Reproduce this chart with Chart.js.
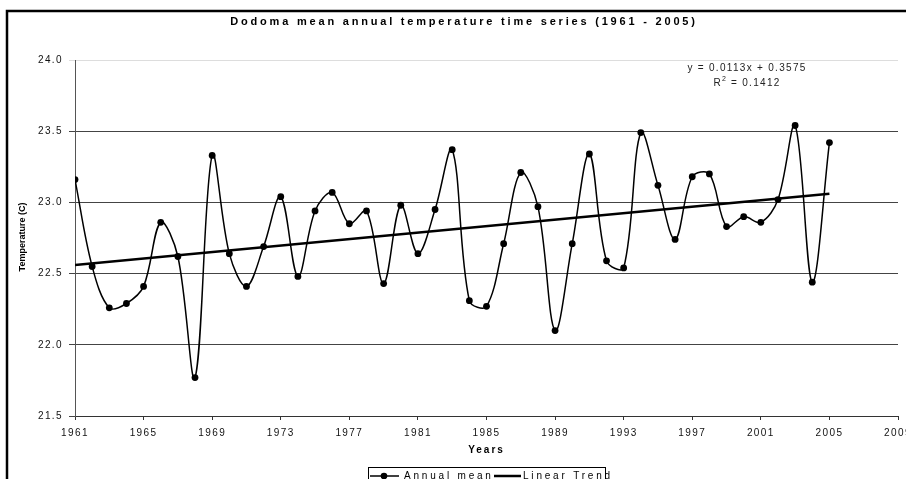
<!DOCTYPE html>
<html>
<head>
<meta charset="utf-8">
<title>Dodoma mean annual temperature</title>
<script src="https://cdn.jsdelivr.net/npm/chart.js@4.4.0/dist/chart.umd.min.js"></script>
<style>
    html, body { margin: 0; padding: 0; background: #fff; }
</style>
</head>
<body>
<canvas id="tempChart" width="906" height="479"></canvas>
<script>
// Data
const years = [1961, 1962, 1963, 1964, 1965, 1966, 1967, 1968, 1969, 1970,
               1971, 1972, 1973, 1974, 1975, 1976, 1977, 1978, 1979, 1980,
               1981, 1982, 1983, 1984, 1985, 1986, 1987, 1988, 1989, 1990,
               1991, 1992, 1993, 1994, 1995, 1996, 1997, 1998, 1999, 2000,
               2001, 2002, 2003, 2004, 2005];
const annualMean = [23.16, 22.55, 22.26, 22.29, 22.41, 22.86, 22.62, 21.77, 23.33, 22.64,
                    22.41, 22.69, 23.04, 22.48, 22.94, 23.07, 22.85, 22.94, 22.43, 22.98,
                    22.64, 22.95, 23.37, 22.31, 22.27, 22.71, 23.21, 22.97, 22.10, 22.71,
                    23.34, 22.59, 22.54, 23.49, 23.12, 22.74, 23.18, 23.20, 22.83, 22.90,
                    22.86, 23.02, 23.54, 22.44, 23.42];
const trendYears = [1961, 2005];
const trendValues = [22.56, 23.06];
const equationLines = ['y = 0.0113x + 0.3575', 'R', ' = 0.1412'];

const chartTitle = 'Dodoma mean annual temperature time series (1961 - 2005)';
const xTitle = 'Years';
const yTitle = 'Temperature (C)';

const FONT = '"Liberation Sans", Arial, sans-serif';

// Extra drawing: frame, titles, equation, legend
const decorations = {
    id: 'decorations',
    beforeDraw(chart) {
        const ctx = chart.ctx;
        ctx.save();
        ctx.fillStyle = '#fff';
        ctx.fillRect(0, 0, chart.width, chart.height);
        ctx.restore();
        ctx.letterSpacing = '1.4px';
    },
    afterDraw(chart) {
        const ctx = chart.ctx;
        const area = chart.chartArea;
        ctx.save();

        // outer frame (cut off at right and bottom)
        ctx.strokeStyle = '#000';
        ctx.lineWidth = 2.5;
        ctx.strokeRect(7, 11, 1200, 1200);

        ctx.fillStyle = '#000';
        ctx.textAlign = 'left';
        ctx.textBaseline = 'middle';

        // chart title
        ctx.letterSpacing = '2.8px';
        ctx.font = 'bold 11px ' + FONT;
        let w = ctx.measureText(chartTitle).width;
        ctx.fillText(chartTitle, 464 - w / 2, 22);

        // x title
        ctx.letterSpacing = '2px';
        ctx.font = 'bold 10px ' + FONT;
        w = ctx.measureText(xTitle).width;
        ctx.fillText(xTitle, (area.left + area.right) / 2 - w / 2, 450);

        // y title
        ctx.letterSpacing = '0px';
        ctx.save();
        ctx.translate(23, 237);
        ctx.rotate(-Math.PI / 2);
        ctx.textAlign = 'center';
        ctx.font = 'bold 9px ' + FONT;
        ctx.fillText(yTitle, 0, 0);
        ctx.restore();

        // trend equation
        ctx.letterSpacing = '1.3px';
        ctx.font = '10px ' + FONT;
        ctx.fillStyle = '#222';
        w = ctx.measureText(equationLines[0]).width;
        ctx.fillText(equationLines[0], 747 - w / 2, 68);
        const rW = ctx.measureText(equationLines[1]).width;
        const restW = ctx.measureText(equationLines[2]).width;
        const startX = 747 - (rW + 5 + restW) / 2;
        ctx.fillText(equationLines[1], startX, 83);
        ctx.font = '7px ' + FONT;
        ctx.fillText('2', startX + rW, 79);
        ctx.font = '10px ' + FONT;
        ctx.fillText(equationLines[2], startX + rW + 5, 83);

        // legend
        const ds = chart.data.datasets;
        ctx.fillStyle = '#000';
        ctx.strokeStyle = '#000';
        ctx.lineWidth = 1;
        ctx.strokeRect(368.5, 467.5, 237, 40);
        ctx.letterSpacing = '2.8px';
        ctx.font = '10px ' + FONT;
        const ly = 476;
        // annual mean swatch
        ctx.lineWidth = 1.5;
        ctx.beginPath();
        ctx.moveTo(370, ly);
        ctx.lineTo(399, ly);
        ctx.stroke();
        ctx.beginPath();
        ctx.arc(384, ly, 3.3, 0, Math.PI * 2);
        ctx.fill();
        ctx.fillText(ds[0].label, 404, ly);
        // trend swatch
        ctx.lineWidth = 2.5;
        ctx.beginPath();
        ctx.moveTo(494, ly);
        ctx.lineTo(521, ly);
        ctx.stroke();
        ctx.fillText(ds[1].label, 523, ly);

        ctx.restore();
    }
};

const ctx = document.getElementById('tempChart').getContext('2d');
const tempChart = new Chart(ctx, {
    type: 'line',
    data: {
        datasets: [{
            label: 'Annual mean',
            data: years.map((y, i) => ({ x: y, y: annualMean[i] })),
            borderColor: '#000',
            backgroundColor: '#000',
            borderWidth: 1.5,
            pointRadius: 3.4,
            pointHoverRadius: 3.4,
            pointBackgroundColor: '#000',
            pointBorderWidth: 0,
            tension: 0.35,
            fill: false
        }, {
            label: 'Linear Trend',
            data: trendYears.map((y, i) => ({ x: y, y: trendValues[i] })),
            borderColor: '#000',
            borderWidth: 2.5,
            pointRadius: 0,
            tension: 0,
            fill: false
        }]
    },
    options: {
        responsive: false,
        devicePixelRatio: 1,
        animation: false,
        events: [],
        layout: { padding: { left: 0, right: 8, top: 60, bottom: 0 } },
        plugins: {
            legend: { display: false },
            title: { display: false },
            tooltip: { enabled: false }
        },
        scales: {
            x: {
                type: 'linear',
                min: 1961,
                max: 2009,
                afterFit(scale) {
                    scale.height = 63;
                    scale.paddingLeft = 0;
                    scale.paddingRight = 0;
                },
                ticks: {
                    stepSize: 4,
                    autoSkip: false,
                    maxRotation: 0,
                    padding: 7,
                    color: '#111',
                    font: { family: FONT, size: 10 },
                    callback: (v) => String(v)
                },
                grid: {
                    drawOnChartArea: false,
                    drawTicks: true,
                    tickLength: 4,
                    color: '#333'
                },
                border: { color: '#333', width: 1 }
            },
            y: {
                min: 21.5,
                max: 24.0,
                afterFit(scale) {
                    scale.width = 75;
                    scale.paddingTop = 0;
                    scale.paddingBottom = 0;
                },
                ticks: {
                    stepSize: 0.5,
                    padding: 6,
                    color: '#111',
                    font: { family: FONT, size: 10 },
                    callback: (v) => v.toFixed(1)
                },
                grid: {
                    drawTicks: true,
                    tickLength: 6,
                    color: (c) => (c.tick && c.tick.value === 24 ? '#ddd' : '#444')
                },
                border: { color: '#555', width: 1 }
            }
        }
    },
    plugins: [decorations]
});
</script>
</body>
</html>
